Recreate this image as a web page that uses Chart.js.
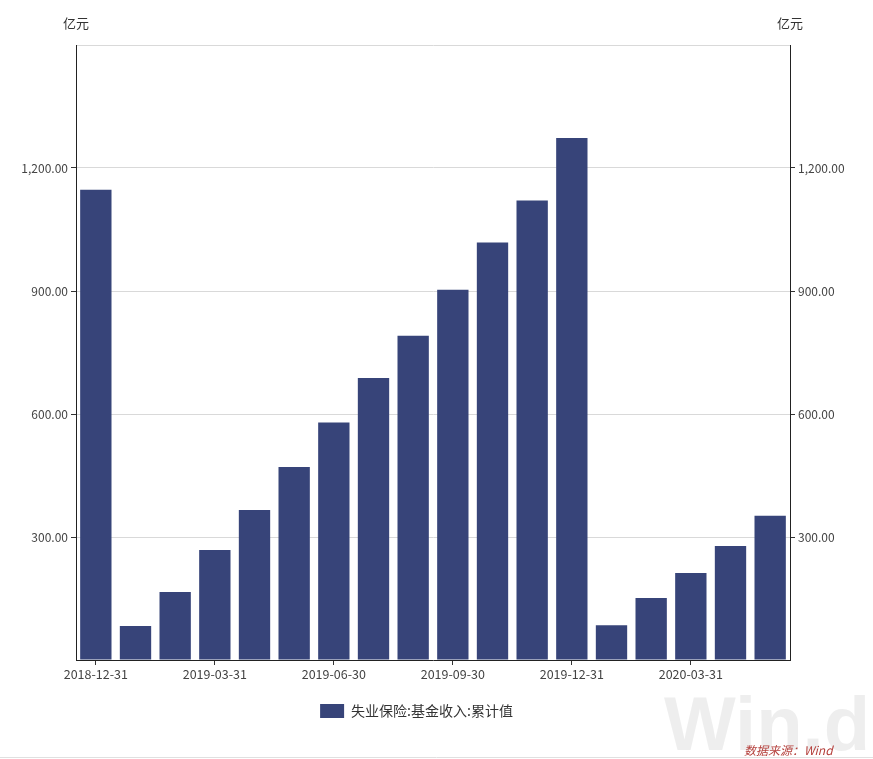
<!DOCTYPE html>
<html><head><meta charset="utf-8">
<script src="https://cdn.jsdelivr.net/npm/chart.js@4.4.0/dist/chart.umd.min.js"></script>
<style>html,body{margin:0;padding:0;background:#fff;}#wrap{width:873px;height:759px;position:relative;}</style>
</head><body><div id="wrap"><canvas id="c" width="873" height="759"></canvas></div>
<script>
const categories = ["2018-12-31","2019-01-31","2019-02-28","2019-03-31","2019-04-30","2019-05-31","2019-06-30","2019-07-31","2019-08-31","2019-09-30","2019-10-31","2019-11-30","2019-12-31","2020-01-31","2020-02-29","2020-03-31","2020-04-30","2020-05-31"];
const values = [1147, 83, 166, 268, 366, 471, 579, 688, 791, 903, 1018, 1121, 1273, 85, 151, 212, 278, 352];
const seriesName = "失业保险:基金收入:累计值";
const unitLabel = "亿元";
const yMin = 0, yMax = 1500, yStep = 300;

const FONT = '"Noto Sans CJK SC", "Liberation Sans", sans-serif';
const fmt = v => v.toLocaleString('en-US', {minimumFractionDigits: 2, maximumFractionDigits: 2});
const yTickCb = v => (v === yMin || v === yMax) ? '' : fmt(v);
const tickCol = ctx => (ctx.tick && (ctx.tick.value === yMin || ctx.tick.value === yMax)) ? 'rgba(0,0,0,0)' : '#333';

const extras = {
  id: 'extras',
  afterLayout(chart) {
    if (chart.legend) { chart.legend.left -= 20; chart.legend.right -= 20; }
  },
  afterDraw(chart) {
    const c = chart.ctx, a = chart.chartArea;
    c.save();
    c.font = '13px ' + FONT; c.fillStyle = '#333'; c.textBaseline = 'middle';
    c.textAlign = 'center';
    c.fillText(unitLabel, a.left, 23);
    c.fillText(unitLabel, a.right, 23);
    // watermark
    c.font = 'bold 76px "Liberation Sans", Arial, sans-serif';
    c.fillStyle = 'rgba(200,200,200,0.3)';
    c.textAlign = 'left'; c.textBaseline = 'alphabetic';
    c.fillText('Win.d', 664, 750);
    c.font = 'italic 12px ' + FONT;
    c.fillStyle = '#b5413d';
    c.fillText('数据来源：Wind', 744, 755);
    c.strokeStyle = '#e0e0e0'; c.lineWidth = 1;
    c.beginPath(); c.moveTo(0, 757.5); c.lineTo(873, 757.5); c.stroke();
    c.restore();
  }
};

new Chart(document.getElementById('c'), {
  type: 'bar',
  data: { labels: categories, datasets: [{ label: seriesName, data: values, backgroundColor: '#374479', borderWidth: 0, barPercentage: 0.79, categoryPercentage: 1.0, yAxisID: 'y' }] },
  options: {
    responsive: false, animation: false,
    layout: { padding: { top: 45, bottom: 31, left: 0, right: 0 } },
    plugins: {
      legend: { position: 'bottom', labels: { boxWidth: 24, boxHeight: 14, padding: 10, color: '#333', font: { size: 14, family: FONT } } },
      tooltip: { enabled: false }
    },
    scales: {
      x: {
        grid: { display: true, offset: false, drawOnChartArea: false, drawTicks: true, tickLength: 5, color: '#333' },
        border: { display: true, color: '#222', width: 1 },
        ticks: { autoSkip: false, maxRotation: 0, padding: 2, color: '#444', font: { size: 12.5, family: FONT },
          callback: function(v, i) { return i % 3 === 0 ? categories[i] : null; } },
        afterFit: s => { s.height = 34; }
      },
      y: {
        position: 'left', min: yMin, max: yMax,
        grid: { color: ctx => (ctx.tick && ctx.tick.value === yMin) ? 'rgba(0,0,0,0)' : '#d9d9d9', tickColor: tickCol, tickLength: 5 },
        border: { display: true, color: '#222', width: 1 },
        ticks: { stepSize: yStep, padding: 3, color: '#444', font: { size: 12, family: FONT }, callback: yTickCb },
        afterFit: s => { s.width = 76; }
      },
      y2: {
        position: 'right', min: yMin, max: yMax,
        grid: { drawOnChartArea: false, tickColor: tickCol, tickLength: 5 },
        border: { display: true, color: '#222', width: 1 },
        ticks: { stepSize: yStep, padding: 3, color: '#444', font: { size: 12, family: FONT }, callback: yTickCb },
        afterFit: s => { s.width = 83; }
      }
    }
  },
  plugins: [extras]
});
</script></body></html>
